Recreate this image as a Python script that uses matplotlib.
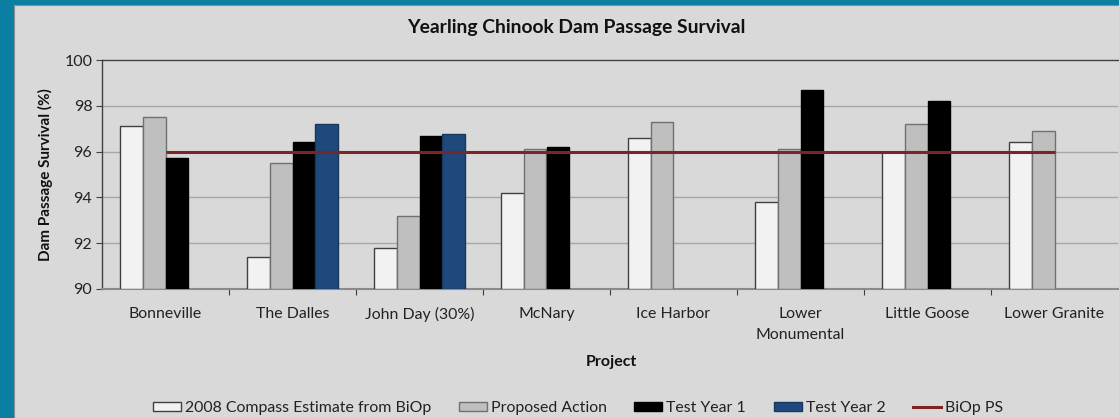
import numpy as np
import matplotlib
matplotlib.use("Agg")
import matplotlib.pyplot as plt
from matplotlib.patches import Rectangle, Patch
from matplotlib.lines import Line2D

# ---------------- data ----------------
projects = ["Bonneville", "The Dalles", "John Day (30%)", "McNary", "Ice Harbor",
            "Lower\nMonumental", "Little Goose", "Lower Granite"]
compass_2008 = [97.1, 91.4, 91.8, 94.2, 96.6, 93.8, 96.0, 96.4]
proposed_action = [97.5, 95.5, 93.2, 96.1, 97.3, 96.1, 97.2, 96.9]
test_year_1 = [95.7, 96.4, 96.7, 96.2, None, 98.7, 98.2, None]
test_year_2 = [None, 97.2, 96.75, None, None, None, None, None]
biop_ps = [96, 96, 96, 96, 96, 96, 96, 96]
y_ticks = [90, 92, 94, 96, 98, 100]

series_names = ["2008 Compass Estimate from BiOp", "Proposed Action", "Test Year 1", "Test Year 2"]

# ---------------- style ----------------
FONT = "Lato"
plt.rcParams["font.family"] = [FONT, "DejaVu Sans"]
W, H = 1119, 418
fig = plt.figure(figsize=(W / 100, H / 100), dpi=100)
fig.patch.set_facecolor("#0A7FA2")
fig.add_artist(Rectangle((14 / W, 0), 1, 1 - 5 / H, transform=fig.transFigure,
                         facecolor="#D9D9D9", edgecolor="#8C8C8C", lw=0.8, zorder=0))

ax = fig.add_axes([102 / W, (H - 289) / H, (1118 - 102) / W, (289 - 60) / H])
ax.set_facecolor("#D9D9D9")

fills = ["#F2F2F2", "#BFBFBF", "#000000", "#1F497D"]
edges = ["#404040", "#707070", "#000000", "#17375E"]
data = [compass_2008, proposed_action, test_year_1, test_year_2]
x = np.arange(len(projects))
bw = 0.181
for k, (vals, fc, ec) in enumerate(zip(data, fills, edges)):
    v = np.array([np.nan if a is None else a for a in vals], dtype=float)
    ax.bar(x + (k - 1.5) * bw, v - 90, bottom=90, width=bw, color=fc,
           edgecolor=ec, linewidth=1.0, zorder=3)

ax.plot(x, biop_ps, color="#7D2424", lw=2.2, zorder=4, solid_capstyle="butt")

ax.set_xlim(-0.5, len(projects) - 0.5)
ax.set_ylim(90, 100)
ax.set_yticks(y_ticks)
ax.set_yticklabels([str(t) for t in y_ticks], fontsize=11.5, color="#222222")
ax.tick_params(axis="y", length=4, width=0.8, color="#404040", pad=3)
for t in y_ticks[1:-1]:
    ax.axhline(t, color="#A6A6A6", lw=1.0, zorder=1)

ax.set_xticks(x)
ax.set_xticklabels(projects, fontsize=11.4, color="#222222", linespacing=1.65)
ax.tick_params(axis="x", which="major", length=0, pad=13)
ax.set_xticks(np.arange(0.5, len(projects) - 0.5, 1), minor=True)
ax.tick_params(axis="x", which="minor", length=4, width=0.8, color="#404040", direction="out")

ax.spines["right"].set_visible(False)
ax.spines["top"].set_color("#404040")
ax.spines["left"].set_color("#404040")
ax.spines["bottom"].set_color("#8A8A8A")
ax.spines["bottom"].set_linewidth(1.5)
ax.spines["top"].set_linewidth(1.0)
ax.spines["left"].set_linewidth(1.0)

fig.text(576 / W, 1 - 28 / H, "Yearling Chinook Dam Passage Survival", ha="center",
         va="center", fontsize=13.9, fontweight="bold", color="#111111")
fig.text(45 / W, 1 - 174.5 / H, "Dam Passage Survival (%)", ha="center", va="center",
         rotation=90, fontsize=11, fontweight="bold", color="#111111")
fig.text(611 / W, 1 - 362 / H, "Project", ha="center", va="center",
         fontsize=11.5, fontweight="bold", color="#111111")

handles = [Patch(facecolor=fc, edgecolor=ec, lw=1.0) for fc, ec in zip(fills, edges)]
handles.append(Line2D([0], [0], color="#7D2424", lw=2.2))
labels = series_names + ["BiOp PS"]
leg = fig.legend(handles, labels, loc="center", bbox_to_anchor=(578 / W, 1 - 408 / H),
                 ncol=5, frameon=False, fontsize=11.4, handlelength=1.77, handleheight=0.45,
                 handletextpad=0.25, columnspacing=1.75, borderaxespad=0)
for t in leg.get_texts():
    t.set_color("#222222")

fig.savefig("out.png", dpi=100, facecolor=fig.get_facecolor())
